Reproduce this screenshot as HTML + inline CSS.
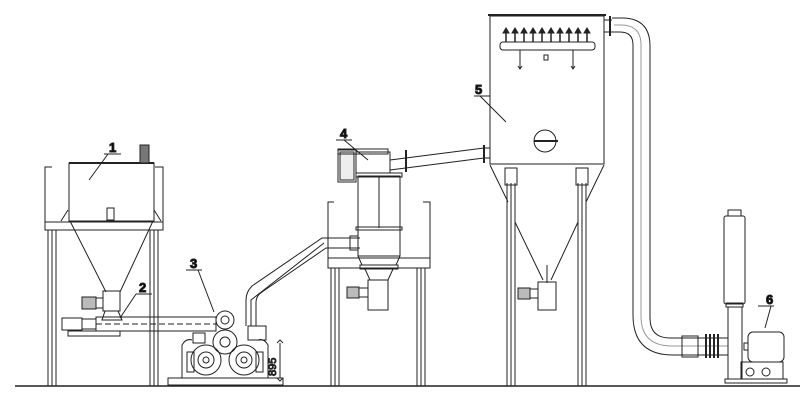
<!DOCTYPE html>
<html><head><meta charset="utf-8"><style>
html,body{margin:0;padding:0;background:#fff;}
svg{display:block;}
text{font-family:"Liberation Sans",sans-serif;font-weight:bold;font-size:13px;fill:#000;}
</style></head><body>
<svg width="800" height="413" viewBox="0 0 800 413" xmlns="http://www.w3.org/2000/svg" fill="none" stroke="#222" stroke-width="1">
<line x1="15" y1="386" x2="800" y2="386" stroke-width="1.5"/>

<path d="M52,167 H45 V230 H163 V167 H155"/>
<line x1="45" y1="222" x2="163" y2="222"/>
<rect x="69" y="163" width="85" height="58"/>
<line x1="69" y1="163" x2="154" y2="163" stroke-width="2"/>
<rect x="140" y="145" width="9" height="18" fill="#777"/>
<rect x="107" y="208" width="7" height="12"/>
<path d="M61,221 L68,210 M161,221 L154,210"/>
<path d="M70,221 L106,292 M153,221 L120,292"/>
<path d="M48,230 V386 M52,230 V386 M56,230 V386 M150,230 V386 M154,230 V386 M158,230 V386"/>
<text x="109" y="152">1</text>
<path d="M104,154 H121 M108,154 L89,180"/>
<rect x="103" y="291" width="17" height="20"/>
<rect x="82" y="297" width="14" height="12" fill="#bbb"/>
<rect x="96" y="298" width="7" height="10"/>
<path d="M105,311 L102,320 H122 L118,311"/>
<rect x="62" y="318" width="20" height="12"/>
<rect x="82" y="319" width="14" height="10"/>
<rect x="96" y="317" width="120" height="14"/>
<line x1="96" y1="324" x2="216" y2="324" stroke-dasharray="6 3"/>
<rect x="68" y="331" width="52" height="5"/>
<text x="139" y="292">2</text>
<path d="M136,294 H152 M136,294 L120,318"/>

<rect x="168" y="378" width="115" height="7"/>
<circle cx="206" cy="360" r="15"/><circle cx="206" cy="360" r="8"/><circle cx="206" cy="360" r="3"/>
<circle cx="244" cy="360" r="15"/><circle cx="244" cy="360" r="8"/><circle cx="244" cy="360" r="3"/>
<circle cx="225" cy="342" r="12"/><circle cx="225" cy="342" r="5"/>
<circle cx="225" cy="320" r="9"/><circle cx="225" cy="320" r="4"/>
<path d="M182,378 V345 Q186,338 192,340 M268,378 V345 Q264,338 258,340"/>
<rect x="187" y="352" width="7" height="20"/><rect x="256" y="352" width="7" height="20"/>
<rect x="193" y="333" width="12" height="10"/><rect x="248" y="326" width="18" height="14"/>
<line x1="280" y1="343" x2="280" y2="378"/>
<path d="M277,343 L280,340 L283,343 M277,378 L280,381 L283,378"/>
<text x="276" y="376" transform="rotate(-90 276 376)" style="font-weight:normal;font-size:11px">895</text>
<text x="190" y="268">3</text>
<path d="M186,270 H202 M198,270 L214,312"/>
<path d="M246,326 V300 Q246,292 252,286 L322,238 H360"/>
<path d="M256,326 V302 Q256,296 262,292 L326,248 H360"/>
<path d="M251,326 V300 L324,243"/>
<rect x="350" y="236" width="8" height="14"/>

<path d="M334,202 H328 V268 H430 V202 H423"/>
<line x1="328" y1="258" x2="430" y2="258"/>
<path d="M331,268 V386 M335,268 V386 M339,268 V386 M417,268 V386 M421,268 V386 M425,268 V386"/>
<rect x="358" y="176" width="42" height="80"/>
<line x1="379" y1="176" x2="379" y2="228"/>
<rect x="356" y="227" width="46" height="3"/>
<rect x="356" y="173" width="46" height="4"/>
<path d="M358,256 L362,265 H396 L400,256"/>
<rect x="360" y="265" width="38" height="4"/>
<path d="M365,269 L370,280 H388 L393,269"/>
<rect x="368" y="280" width="20" height="30"/>
<rect x="347" y="287" width="12" height="11" fill="#bbb"/>
<rect x="359" y="288" width="9" height="9"/>
<rect x="338" y="150" width="18" height="32"/>
<rect x="340" y="152" width="14" height="28" fill="#eee"/>
<rect x="356" y="152" width="34" height="21"/>
<rect x="338" y="149" width="50" height="5"/>
<text x="340" y="138">4</text>
<path d="M336,140 H352 M344,140 L368,160"/>
<path d="M390,160 L484,148 M390,170 L484,158"/>
<line x1="406" y1="150" x2="406" y2="172" stroke-width="2"/>
<line x1="484" y1="145" x2="484" y2="163" stroke-width="2"/>
<line x1="484" y1="148" x2="490" y2="148"/><line x1="484" y1="158" x2="490" y2="158"/>

<rect x="490" y="16" width="114" height="148"/>
<line x1="488" y1="15" x2="606" y2="15" stroke-width="2"/>
<rect x="500" y="42" width="95" height="8" rx="3"/>
<g stroke-width="1.5">
<path d="M506,31 V42 M515,31 V42 M524,31 V42 M533,31 V42 M542,31 V42 M551,31 V42 M560,31 V42 M569,31 V42 M578,31 V42 M587,31 V42"/>
</g>
<g fill="#222">
<path d="M503,33 L506,28 L509,33Z M512,33 L515,28 L518,33Z M521,33 L524,28 L527,33Z M530,33 L533,28 L536,33Z M539,33 L542,28 L545,33Z M548,33 L551,28 L554,33Z M557,33 L560,28 L563,33Z M566,33 L569,28 L572,33Z M575,33 L578,28 L581,33Z M584,33 L587,28 L590,33Z"/>
</g>
<path d="M520,50 V68 M573,50 V68 M518,66 L520,69 L522,66 M571,66 L573,69 L575,66"/>
<rect x="544" y="55" width="4" height="5"/>
<circle cx="545" cy="141" r="11"/>
<line x1="534" y1="141" x2="558" y2="141" stroke-width="2"/>
<path d="M490,165 L508,202 M604,165 L586,202"/>
<path d="M515,222 L543,280 M578,222 L551,280"/>
<rect x="505" y="168" width="12" height="17"/><rect x="576" y="168" width="12" height="17"/>
<path d="M507,183 V386 M511,183 V386 M515,183 V386 M578,183 V386 M582,183 V386 M586,183 V386"/>
<line x1="547" y1="265" x2="547" y2="283"/>
<rect x="538" y="282" width="18" height="28"/>
<rect x="518" y="288" width="12" height="11" fill="#bbb"/>
<rect x="530" y="289" width="8" height="9"/>
<text x="475" y="94">5</text>
<path d="M474,96 H490 M480,96 L506,122"/>

<path d="M604,20 H612 M604,32 H612"/>
<line x1="610" y1="16" x2="610" y2="36" stroke-width="2"/>
<path d="M612,18 H622 Q650,18 650,46 V318 Q650,338 670,338 H728"/>
<path d="M612,32 H620 Q633,32 633,45 V315 Q633,355 673,355 H728"/>
<path d="M614,25 H621 Q641,25 641,45 V316 Q641,346 672,346 H728" stroke="#999"/>
<rect x="682" y="336" width="16" height="21"/>
<path d="M706,334 V358 M710,334 V358 M714,334 V358 M718,334 V358" stroke-width="2"/>

<rect x="724" y="216" width="21" height="88" rx="2"/>
<rect x="728" y="210" width="13" height="6"/>
<rect x="726" y="303" width="17" height="4"/>
<rect x="728" y="307" width="14" height="72"/>
<rect x="748" y="332" width="36" height="30" rx="5"/>
<rect x="744" y="343" width="4" height="7"/>
<rect x="741" y="362" width="42" height="17"/>
<circle cx="750" cy="372" r="4"/><circle cx="766" cy="372" r="4"/>
<rect x="725" y="379" width="62" height="4"/>
<text x="766" y="304">6</text>
<path d="M758,306 H774 M771,306 L765,328"/>
</svg>
</body></html>
